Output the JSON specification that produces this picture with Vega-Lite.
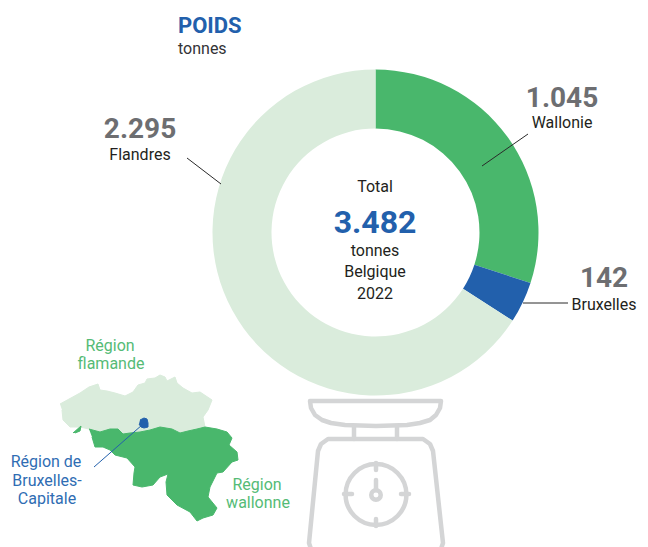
{"$schema":"https://vega.github.io/schema/vega-lite/v6.json","width":648,"height":547,"autosize":{"type":"fit","contains":"padding"},"padding":0,"background":"white","config":{"view":{"stroke":null},"axis":{"domain":false}},
"datasets":{
"regions":[{"region":"Wallonie","tonnes":1045,"rank":1},{"region":"Bruxelles","tonnes":142,"rank":2},{"region":"Flandres","tonnes":2295,"rank":3}],
"flanders":[{"x":60,"y":404,"o":1},{"x":80,"y":393,"o":2},{"x":89,"y":387,"o":3},{"x":98,"y":384,"o":4},{"x":100,"y":390,"o":5},{"x":107,"y":391,"o":6},{"x":115,"y":393,"o":7},{"x":125,"y":396,"o":8},{"x":133,"y":392,"o":9},{"x":138,"y":385,"o":10},{"x":145,"y":383,"o":11},{"x":147,"y":379,"o":12},{"x":155,"y":378,"o":13},{"x":160,"y":375,"o":14},{"x":165,"y":377,"o":15},{"x":167,"y":381,"o":16},{"x":175,"y":377,"o":17},{"x":177,"y":383,"o":18},{"x":183,"y":388,"o":19},{"x":192,"y":393,"o":20},{"x":200,"y":392,"o":21},{"x":212,"y":400,"o":22},{"x":208,"y":410,"o":23},{"x":203,"y":417,"o":24},{"x":205,"y":427,"o":25},{"x":197,"y":429,"o":26},{"x":188,"y":431,"o":27},{"x":180,"y":433,"o":28},{"x":172,"y":429,"o":29},{"x":160,"y":427,"o":30},{"x":150,"y":430,"o":31},{"x":140,"y":432,"o":32},{"x":130,"y":433,"o":33},{"x":123,"y":435,"o":34},{"x":118,"y":429,"o":35},{"x":110,"y":429,"o":36},{"x":100,"y":432,"o":37},{"x":89,"y":429,"o":38},{"x":80,"y":427,"o":39},{"x":70,"y":427,"o":40},{"x":63,"y":420,"o":41},{"x":62,"y":410,"o":42}],
"wallonia":[{"part":"main","x":89,"y":429,"o":1},{"part":"main","x":100,"y":432,"o":2},{"part":"main","x":110,"y":429,"o":3},{"part":"main","x":118,"y":429,"o":4},{"part":"main","x":123,"y":434,"o":5},{"part":"main","x":130,"y":433,"o":6},{"part":"main","x":140,"y":432,"o":7},{"part":"main","x":150,"y":430,"o":8},{"part":"main","x":160,"y":427,"o":9},{"part":"main","x":172,"y":429,"o":10},{"part":"main","x":180,"y":433,"o":11},{"part":"main","x":188,"y":431,"o":12},{"part":"main","x":197,"y":429,"o":13},{"part":"main","x":205,"y":427,"o":14},{"part":"main","x":217,"y":429,"o":15},{"part":"main","x":227,"y":432,"o":16},{"part":"main","x":232,"y":438,"o":17},{"part":"main","x":229,"y":445,"o":18},{"part":"main","x":237,"y":452,"o":19},{"part":"main","x":238,"y":460,"o":20},{"part":"main","x":232,"y":462,"o":21},{"part":"main","x":223,"y":472,"o":22},{"part":"main","x":217,"y":473,"o":23},{"part":"main","x":210,"y":487,"o":24},{"part":"main","x":208,"y":497,"o":25},{"part":"main","x":217,"y":508,"o":26},{"part":"main","x":213,"y":515,"o":27},{"part":"main","x":203,"y":518,"o":28},{"part":"main","x":197,"y":521,"o":29},{"part":"main","x":190,"y":512,"o":30},{"part":"main","x":177,"y":505,"o":31},{"part":"main","x":167,"y":495,"o":32},{"part":"main","x":166,"y":482,"o":33},{"part":"main","x":168,"y":474,"o":34},{"part":"main","x":160,"y":477,"o":35},{"part":"main","x":153,"y":485,"o":36},{"part":"main","x":142,"y":487,"o":37},{"part":"main","x":133,"y":485,"o":38},{"part":"main","x":134,"y":473,"o":39},{"part":"main","x":135,"y":467,"o":40},{"part":"main","x":127,"y":458,"o":41},{"part":"main","x":115,"y":455,"o":42},{"part":"main","x":110,"y":450,"o":43},{"part":"main","x":103,"y":447,"o":44},{"part":"main","x":95,"y":447,"o":45},{"part":"main","x":92,"y":437,"o":46},{"part":"patch","x":73,"y":433,"o":1},{"part":"patch","x":81,"y":426,"o":2},{"part":"patch","x":80,"y":431,"o":3},{"part":"patch","x":75,"y":433,"o":4}],
"brussels":[{"x":140,"y":420,"o":1},{"x":144,"y":418,"o":2},{"x":147,"y":419,"o":3},{"x":148,"y":423,"o":4},{"x":148,"y":427,"o":5},{"x":144,"y":428,"o":6},{"x":141,"y":427,"o":7},{"x":139,"y":424,"o":8}],
"scaleParts":[{"part":"pan","x":310,"y":401,"o":1},{"part":"pan","x":441,"y":401,"o":2},{"part":"pan","x":440,"y":408,"o":3},{"part":"pan","x":436,"y":415,"o":4},{"part":"pan","x":430,"y":420,"o":5},{"part":"pan","x":420,"y":423,"o":6},{"part":"pan","x":407,"y":425,"o":7},{"part":"pan","x":376,"y":426,"o":8},{"part":"pan","x":345,"y":425,"o":9},{"part":"pan","x":331,"y":423,"o":10},{"part":"pan","x":322,"y":420,"o":11},{"part":"pan","x":315,"y":415,"o":12},{"part":"pan","x":311,"y":408,"o":13},{"part":"pan","x":310,"y":401,"o":14},{"part":"postL","x":354,"y":426,"o":1},{"part":"postL","x":354,"y":439,"o":2},{"part":"postR","x":397,"y":426,"o":1},{"part":"postR","x":397,"y":439,"o":2},{"part":"body","x":312,"y":552,"o":1},{"part":"body","x":309,"y":543,"o":2},{"part":"body","x":318,"y":451,"o":3},{"part":"body","x":321,"y":444,"o":4},{"part":"body","x":328,"y":439,"o":5},{"part":"body","x":423,"y":439,"o":6},{"part":"body","x":430,"y":444,"o":7},{"part":"body","x":433,"y":451,"o":8},{"part":"body","x":443,"y":543,"o":9},{"part":"body","x":440,"y":552,"o":10},{"part":"t","x":376,"y":463,"o":1},{"part":"t","x":376,"y":470,"o":2},{"part":"b","x":376,"y":519,"o":1},{"part":"b","x":376,"y":526,"o":2},{"part":"l","x":344,"y":494,"o":1},{"part":"l","x":352,"y":494,"o":2},{"part":"r","x":401,"y":494,"o":1},{"part":"r","x":409,"y":494,"o":2},{"part":"n","x":376,"y":480,"o":1},{"part":"n","x":376,"y":490,"o":2}],
"scaleRings":[{"ring":"dial","x":376,"y":494.5,"s":3700},{"ring":"hub","x":376,"y":495,"s":90}],
"leaders":[{"id":"F","x":187,"y":158,"o":1},{"id":"F","x":221,"y":184,"o":2},{"id":"W","x":528,"y":134,"o":1},{"id":"W","x":482,"y":166,"o":2},{"id":"B","x":523,"y":303,"o":1},{"id":"B","x":568,"y":303,"o":2}],
"texts":[{"t":"POIDS","x":178,"y":33,"k":"title"},{"t":"tonnes","x":178,"y":54,"k":"subtitle"},{"t":"2.295","x":140,"y":138,"k":"num"},{"t":"Flandres","x":140,"y":160,"k":"lab"},{"t":"1.045","x":562,"y":107,"k":"num"},{"t":"Wallonie","x":562,"y":128,"k":"lab"},{"t":"142","x":604,"y":287,"k":"num"},{"t":"Bruxelles","x":604,"y":310,"k":"lab"},{"t":"Total","x":375,"y":192,"k":"lab"},{"t":"3.482","x":375,"y":233,"k":"tot"},{"t":"tonnes","x":375,"y":256,"k":"lab"},{"t":"Belgique","x":375,"y":277,"k":"lab"},{"t":"2022","x":375,"y":299,"k":"lab"},{"t":"Région","x":110,"y":351,"k":"green"},{"t":"flamande","x":111,"y":369,"k":"green"},{"t":"Région","x":257,"y":490,"k":"green"},{"t":"wallonne","x":258,"y":508,"k":"green"},{"t":"Région de","x":46,"y":467,"k":"blue"},{"t":"Bruxelles-","x":47,"y":486,"k":"blue"},{"t":"Capitale","x":47,"y":504,"k":"blue"}]
},
"encoding":{"x":{"field":"x","type":"quantitative","scale":{"domain":[0,648]},"axis":null},"y":{"field":"y","type":"quantitative","scale":{"domain":[547,0]},"axis":null}},
"layer":[
{"data":{"name":"regions"},"transform":[{"stack":"tonnes","sort":[{"field":"rank","order":"ascending"}],"as":["a0","a1"]},{"calculate":"375.5","as":"x"},{"calculate":"232.5","as":"y"}],"mark":{"type":"arc","outerRadius":163,"innerRadius":104},"encoding":{"theta":{"field":"a0","type":"quantitative","scale":{"domain":[0,3482]}},"theta2":{"field":"a1"},"color":{"field":"region","type":"nominal","legend":null,"scale":{"domain":["Wallonie","Bruxelles","Flandres"],"range":["#49B76C","#2260AC","#DAECDC"]}}}},
{"data":{"name":"leaders"},"mark":{"type":"line","color":"#2a2a2a","strokeWidth":1},"encoding":{"detail":{"field":"id"},"order":{"field":"o","type":"quantitative"}}},
{"data":{"name":"flanders"},"mark":{"type":"line","fill":"#DAECDC","stroke":"#DAECDC","strokeWidth":1},"encoding":{"order":{"field":"o","type":"quantitative"}}},
{"data":{"name":"wallonia"},"mark":{"type":"line","fill":"#49B76C","stroke":"#49B76C","strokeWidth":1},"encoding":{"detail":{"field":"part"},"order":{"field":"o","type":"quantitative"}}},
{"data":{"name":"brussels"},"mark":{"type":"line","fill":"#2260AC","stroke":"#2260AC","strokeWidth":1},"encoding":{"order":{"field":"o","type":"quantitative"}}},
{"data":{"values":[{"x":94,"y":467,"o":1},{"x":142,"y":425,"o":2}]},"mark":{"type":"line","color":"#2260AC","strokeWidth":1},"encoding":{"order":{"field":"o","type":"quantitative"}}},
{"data":{"name":"scaleParts"},"mark":{"type":"line","color":"#D4D5D6","strokeWidth":4.5,"strokeCap":"round","strokeJoin":"round","clip":true},"encoding":{"detail":{"field":"part"},"order":{"field":"o","type":"quantitative"}}},
{"data":{"name":"scaleRings"},"mark":{"type":"point","shape":"circle","filled":false,"stroke":"#D4D5D6","strokeWidth":4.5,"opacity":1},"encoding":{"size":{"field":"s","type":"quantitative","legend":null,"scale":null}}},
{"data":{"name":"texts"},"transform":[{"filter":"datum.k=='title'"}],"mark":{"type":"text","align":"left","baseline":"alphabetic","font":"Roboto","fontWeight":"bold","fontSize":22,"color":"#2260AC"},"encoding":{"text":{"field":"t"}}},
{"data":{"name":"texts"},"transform":[{"filter":"datum.k=='subtitle'"}],"mark":{"type":"text","align":"left","baseline":"alphabetic","font":"Roboto","fontSize":16,"color":"#333336"},"encoding":{"text":{"field":"t"}}},
{"data":{"name":"texts"},"transform":[{"filter":"datum.k=='num'"}],"mark":{"type":"text","align":"center","baseline":"alphabetic","font":"Roboto","fontWeight":"bold","fontSize":28,"color":"#6D6E71"},"encoding":{"text":{"field":"t"}}},
{"data":{"name":"texts"},"transform":[{"filter":"datum.k=='lab'"}],"mark":{"type":"text","align":"center","baseline":"alphabetic","font":"Roboto","fontSize":16,"color":"#231F20"},"encoding":{"text":{"field":"t"}}},
{"data":{"name":"texts"},"transform":[{"filter":"datum.k=='tot'"}],"mark":{"type":"text","align":"center","baseline":"alphabetic","font":"Roboto","fontWeight":"bold","fontSize":32,"color":"#2260AC"},"encoding":{"text":{"field":"t"}}},
{"data":{"name":"texts"},"transform":[{"filter":"datum.k=='green'"}],"mark":{"type":"text","align":"center","baseline":"alphabetic","font":"Roboto","fontSize":16,"color":"#55BB76"},"encoding":{"text":{"field":"t"}}},
{"data":{"name":"texts"},"transform":[{"filter":"datum.k=='blue'"}],"mark":{"type":"text","align":"center","baseline":"alphabetic","font":"Roboto","fontSize":16,"color":"#2F6DB3"},"encoding":{"text":{"field":"t"}}}
]}
